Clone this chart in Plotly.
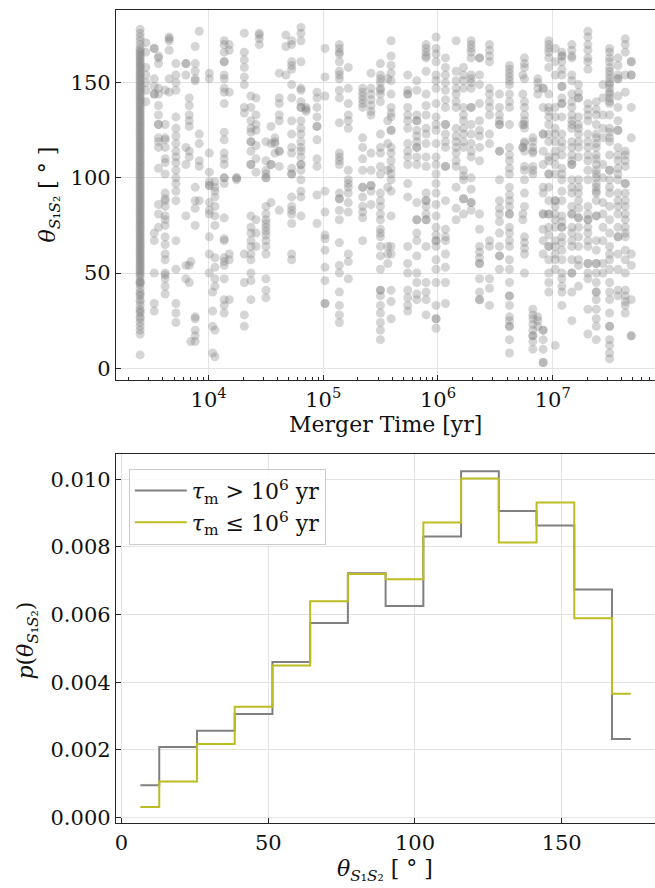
import plotly.graph_objects as go

# ---------------- data: top panel (columns of points: log10 merger time -> angles) -------------
col_log10_time = [
    3.403, 3.453, 3.526, 3.563, 3.621, 3.656, 3.715, 3.802, 3.831, 3.883,
    3.918, 3.845, 4.006, 4.035, 4.055, 4.136, 4.180, 4.244, 4.311, 4.369,
    4.413, 4.442, 4.500, 4.544, 4.578, 4.616, 4.674, 4.724, 4.805, 4.849,
    4.945, 5.015, 5.140, 5.218, 5.343, 5.416, 5.498, 5.562,
    5.591, 5.736, 5.815, 5.896, 5.983, 6.065, 6.158, 6.222, 6.289, 6.362,
    6.449, 6.536, 6.623, 6.740,
    6.754, 6.827, 6.870, 6.917, 6.966, 7.022, 7.080, 7.167, 7.225, 7.307,
    7.380, 7.438, 7.496, 7.569, 7.633, 7.685,
]
col_theta = [
    [178, 176, 174, 172, 170, 168, 167, 166, 165, 164, 163, 162, 161, 160, 159, 158, 157, 156, 155, 154,
     153, 152, 151, 150, 149, 148, 147, 146, 145, 144, 143, 142, 141, 140, 139, 138, 137, 136, 135, 134,
     133, 132, 131, 130, 129, 128, 127, 126, 125, 124, 123, 122, 121, 120, 119, 118, 117, 116, 115, 114,
     113, 112, 111, 110, 109, 108, 107, 106, 105, 104, 103, 102, 101, 100, 99, 98, 97, 96, 95, 94, 93,
     92, 91, 90, 89, 88, 87, 86, 85, 84, 83, 82, 81, 80, 79, 78, 77, 76, 75, 74, 73, 72, 71, 70, 69, 68,
     67, 66, 65, 64, 63, 62, 61, 60, 59, 58, 57, 56, 55, 54, 53, 52, 51, 50, 49, 48, 46, 45, 45, 44, 42,
     40, 39, 38, 36, 35, 33, 31, 30, 29, 27, 26, 24, 22, 20, 18, 7],
    [171, 166, 158, 154, 150, 146, 140],
    [168, 168, 152, 148, 144, 144, 71, 67, 50, 34, 30],
    [164, 163, 160, 147, 144, 138, 133, 128, 128, 121, 119, 116, 105, 86, 81, 74],
    [146, 128, 121, 120, 116, 110, 108, 102, 92, 89, 88, 85, 80, 78, 75, 69, 65, 60, 57, 50, 49, 47, 43, 39],
    [174, 173, 172, 167, 152, 145],
    [160, 154, 150, 146, 132, 126, 122, 118, 114, 111, 108, 104, 100, 97, 93, 88, 67, 52, 34, 29, 24],
    [160, 160, 154, 116, 107, 80, 54, 47],
    [142, 138, 133, 130, 127, 114, 111, 54, 45],
    [169, 160, 156, 152, 151, 95, 88, 84, 75, 27, 26, 20, 17, 14],
    [177, 123, 118, 109, 106, 88],
    [14, 56],
    [155, 152, 113, 103, 98, 96, 96, 87, 83, 81, 69, 60, 50],
    [40, 30, 22, 8],
    [98, 95, 93, 90, 85, 80, 75, 58, 53, 47, 43, 20, 6],
    [172, 170, 166, 161, 161, 154, 152, 147, 145, 139, 124, 120, 113, 110, 107, 100, 100, 97, 79, 68, 67,
     58, 56, 54, 47, 36, 33, 29],
    [170, 167, 145, 60, 57, 36],
    [100, 100, 99],
    [176, 166, 162, 158, 153, 149, 137, 134, 60, 45, 28, 22],
    [143, 137, 130, 126, 124, 119, 119, 114, 107, 107, 80, 74, 71, 67, 64, 60, 57, 50, 46, 36],
    [142, 133, 128, 125, 117, 110, 103, 78, 71, 64],
    [176, 175, 173, 170],
    [119, 109, 104, 102, 100, 100, 85, 81, 78, 76, 74, 72, 70, 67, 64, 60, 47, 41, 37],
    [127, 118, 107, 107, 87],
    [121, 119, 118, 113],
    [155, 142, 139, 133, 130, 114, 114, 106, 83],
    [175, 169, 154],
    [172, 170, 161, 159, 157, 149, 142, 130, 123, 116, 113, 105, 102, 102, 90, 85, 83, 81, 76, 60, 57],
    [179, 176, 172, 161, 147, 146, 140, 137, 137, 130, 126, 123, 119, 116, 114, 111, 107, 107, 104, 99,
     93, 90, 80],
    [137, 136, 135],
    [145, 142, 137, 132, 127, 127, 120, 110, 106, 91, 76],
    [168, 153, 143, 93, 82, 70, 68, 62, 53, 46, 34, 34],
    [170, 168, 166, 165, 161, 156, 154, 152, 146, 142, 129, 113, 111, 109, 107, 92, 89, 89, 83, 78, 66,
     54, 50, 40, 33, 28, 24],
    [158, 147, 139, 133, 130, 126, 104, 99, 97, 95, 92, 87, 82, 60, 56, 47],
    [147, 145, 143, 141, 139, 137, 121, 116, 110, 104, 95, 95, 90, 85, 82, 79, 67],
    [155, 147, 144, 141, 138, 135, 133, 113, 104, 96, 96, 93, 86],
    [160, 154, 152, 150, 147, 146, 144, 140, 123, 116, 113, 106, 102, 92, 88, 85, 81, 78, 73, 71, 69, 64,
     59, 52, 41, 41, 38, 33, 29, 24, 20, 15],
    [152, 130, 118, 104, 95, 64, 60, 55],
    [172, 164, 159, 155, 151, 144, 137, 134, 132, 125, 125, 116, 113, 109, 105, 102, 99, 93, 80, 64, 60,
     41, 35, 26],
    [154, 146, 144, 144, 137, 133, 130, 126, 118, 114, 111, 107, 97, 90, 64, 55, 50, 41, 37, 33, 30],
    [151, 146, 133, 130, 130, 125, 122, 119, 116, 116, 111, 107, 87, 78, 78, 71, 67, 59, 50, 45, 39, 36],
    [170, 168, 166, 164, 163, 156, 144, 138, 133, 126, 123, 118, 111, 106, 92, 88, 88, 85, 81, 78, 78,
     64, 45, 40, 36, 28],
    [174, 168, 165, 161, 154, 151, 147, 139, 132, 128, 125, 118, 111, 107, 102, 97, 92, 86, 80, 74, 70,
     67, 67, 64, 57, 52, 45, 33, 26, 26, 21],
    [163, 158, 154, 150, 146, 141, 137, 128, 128, 123, 119, 116, 106, 106, 88, 73, 69, 67, 60, 53, 45, 34],
    [172, 156, 151, 147, 144, 140, 137, 126, 122, 119, 116, 113, 109, 106, 95, 84, 78],
    [158, 154, 151, 147, 137, 133, 130, 126, 123, 119, 116, 104, 101, 99, 89, 89, 81],
    [172, 170, 168, 166, 163, 154, 152, 150, 147, 137, 137, 128, 123, 118, 114, 111, 100, 94, 87, 87, 83],
    [163, 163, 154, 149, 139, 130, 125, 122, 116, 109, 81, 73, 64, 61, 58, 55, 55, 47, 40, 36, 36],
    [170, 167, 164, 161, 147, 144, 140, 137, 133, 123, 118, 67, 64, 47, 42, 33],
    [144, 137, 133, 130, 128, 128, 114, 114, 99, 88, 84, 81, 77, 71, 64, 59, 59, 52],
    [159, 157, 155, 153, 151, 149, 144, 140, 137, 128, 116, 112, 109, 105, 102, 95, 91, 88, 85, 81, 81,
     74, 71, 67, 64, 57, 52, 45, 38, 38, 33, 27, 25, 22, 22, 15, 8],
    [154, 144, 128, 116, 116, 81, 78],
    [163, 160, 158, 152, 140, 137, 133, 130, 128, 126, 119, 118, 114, 106, 104, 99, 92, 85, 69, 66, 63,
     60, 50],
    [121, 119, 116, 114, 113, 106, 104, 102, 31, 28, 26, 23, 20, 17, 17, 14, 10],
    [152, 150, 147, 144, 27, 25, 22],
    [147, 147, 137, 123, 123, 114, 107, 95, 92, 81, 81, 73, 67, 60, 20, 20, 15, 10, 3, 3],
    [172, 170, 168, 166, 163, 158, 144, 137, 135, 132, 128, 123, 119, 111, 109, 102, 102, 95, 88, 81, 81,
     74, 70, 64, 64, 57, 50, 45, 40],
    [168, 161, 154, 137, 132, 126, 123, 119, 114, 111, 107, 102, 88, 88, 85, 81, 78, 74, 67, 64, 60, 57,
     52, 12],
    [166, 164, 164, 161, 157, 154, 148, 148, 142, 139, 139, 132, 123, 119, 116, 112, 105, 102, 99, 93, 88,
     80, 77, 74, 74, 69, 66, 62, 57, 50, 47, 43, 40, 33],
    [170, 167, 164, 163, 154, 151, 144, 140, 137, 133, 130, 128, 126, 119, 116, 112, 109, 107, 107, 99,
     95, 92, 85, 81, 81, 74, 71, 67, 64, 57, 50, 50, 40, 25],
    [149, 145, 142, 142, 132, 128, 126, 123, 119, 116, 111, 99, 95, 92, 88, 84, 79, 79, 74, 69, 64, 57,
     54, 43],
    [177, 174, 170, 167, 163, 161, 157, 139, 136, 133, 130, 123, 119, 116, 112, 109, 104, 99, 85, 81, 78,
     78, 74, 71, 67, 64, 55, 55, 50, 47, 31, 18],
    [140, 136, 133, 128, 123, 121, 118, 116, 112, 110, 107, 104, 102, 100, 97, 95, 93, 92, 88, 80, 80, 67,
     62, 55, 55, 50, 45, 40, 40, 36, 31, 26, 22, 15],
    [149, 142, 133, 126, 121, 107, 100, 87, 81, 74, 67, 55, 50],
    [168, 166, 163, 161, 158, 156, 154, 152, 150, 149, 147, 145, 144, 142, 140, 139, 133, 126, 124, 121,
     119, 112, 104, 104, 99, 95, 92, 85, 78, 71, 64, 60, 57, 52, 45, 40, 36, 29, 22, 22, 15, 12, 8, 5],
    [163, 159, 154, 152, 152, 143, 137, 130, 125, 125, 116, 112, 109, 105, 102, 99, 92, 88, 85, 81, 74,
     69, 69, 60, 52, 41, 38],
    [173, 170, 166, 154, 145, 114, 112, 109, 106, 97, 97, 92, 88, 85, 81, 78, 74, 71, 69, 62, 57, 50, 41,
     38, 35, 33, 29],
    [161, 161, 154, 154, 137, 121, 60, 54, 36, 17, 17],
]

# ---------------- data: bottom panel (histogram densities per bin) ----------------
bin_centers = [6.43, 19.29, 32.14, 45.0, 57.86, 70.71, 83.57, 96.43, 109.29, 122.14,
               135.0, 147.86, 160.71, 173.57]
p_long = [0.00095, 0.00208, 0.00256, 0.00306, 0.00460, 0.00575, 0.00722, 0.00625, 0.00831,
          0.01024, 0.00906, 0.00863, 0.00674, 0.00232]
p_short = [0.00031, 0.00106, 0.00217, 0.00327, 0.00449, 0.00639, 0.00720, 0.00704, 0.00872,
           0.01002, 0.00813, 0.00931, 0.00589, 0.00366]

top_tick_vals = [1e4, 1e5, 1e6, 1e7]
top_tick_text = ["10<sup>4</sup>", "10<sup>5</sup>", "10<sup>6</sup>", "10<sup>7</sup>"]

# ---------------- build ----------------
xs, ys = [], []
for lt, th in zip(col_log10_time, col_theta):
    for v in th:
        xs.append(10 ** lt)
        ys.append(v)

W, H = 655, 888
FONT = "DejaVu Serif"
AX = "#262626"
GRID = "#e3e3e3"

fig = go.Figure()
fig.add_trace(go.Scatter(
    x=xs, y=ys, mode="markers", xaxis="x", yaxis="y", showlegend=False,
    marker=dict(size=9, color="rgba(128,128,128,0.33)", line=dict(width=0)),
    hoverinfo="skip"))

fig.add_trace(go.Scatter(
    x=bin_centers, y=p_long, mode="lines", line_shape="hvh", xaxis="x2", yaxis="y2",
    line=dict(color="#808080", width=2),
    name="<i>τ</i><sub>m</sub> > 10<sup>6</sup> yr"))
fig.add_trace(go.Scatter(
    x=bin_centers, y=p_short, mode="lines", line_shape="hvh", xaxis="x2", yaxis="y2",
    line=dict(color="#bcbd22", width=2),
    name="<i>τ</i><sub>m</sub> ≤ 10<sup>6</sup> yr"))

minor_vals = [m * 10 ** d for d in range(3, 8) for m in range(2, 10)]

x_dom = [115 / W, 1.0]
y1_dom = [1 - 383 / H, 1 - 10 / H]
y2_dom = [1 - 829 / H, 1 - 457 / H]

common_axis = dict(showline=True, linecolor=AX, linewidth=1, ticks="inside", tickcolor=AX,
                   ticklen=5, tickwidth=1, showgrid=True, gridcolor=GRID, gridwidth=1,
                   zeroline=False, tickfont=dict(family=FONT, size=21, color="#111"))

fig.update_layout(
    width=W, height=H, margin=dict(l=0, r=0, t=0, b=0),
    paper_bgcolor="white", plot_bgcolor="white",
    font=dict(family=FONT, size=21, color="#111"),
    xaxis=dict(domain=x_dom, anchor="y", type="log", range=[3.191, 7.892], mirror=True,
               tickmode="array", tickvals=top_tick_vals, ticktext=top_tick_text,
               minor=dict(tickmode="array", tickvals=minor_vals, ticks="inside", ticklen=3,
                          tickcolor=AX, showgrid=False),
               **common_axis),
    yaxis=dict(domain=y1_dom, anchor="x", range=[-6.4, 188.2],
               tickmode="array", tickvals=[0, 50, 100, 150], **common_axis),
    xaxis2=dict(domain=x_dom, anchor="y2", range=[-1.94, 181.8], mirror=True,
                tickmode="array", tickvals=[0, 50, 100, 150], **common_axis),
    yaxis2=dict(domain=y2_dom, anchor="x2", range=[-0.000176, 0.01075],
                tickmode="array", tickvals=[0, 0.002, 0.004, 0.006, 0.008, 0.010],
                tickformat=".3f", **common_axis),
    legend=dict(x=128 / W, y=1 - 472 / H, xanchor="left", yanchor="top",
                bgcolor="rgba(255,255,255,0.85)", bordercolor="#cccccc", borderwidth=1,
                font=dict(family=FONT, size=22, color="#111"), itemwidth=52,
                tracegroupgap=0),
    annotations=[
        dict(text="Merger Time [yr]", x=385 / W, y=1 - 427 / H, xref="paper", yref="paper",
             showarrow=False, xanchor="center", yanchor="middle", font=dict(size=22)),
        dict(text="<i>θ</i><sub><i>S</i>₁<i>S</i>₂</sub> [ ° ]", x=49 / W, y=1 - 196 / H,
             xref="paper", yref="paper", showarrow=False, textangle=-90,
             xanchor="center", yanchor="middle", font=dict(size=22)),
        dict(text="<i>p</i>(<i>θ</i><sub><i>S</i>₁<i>S</i>₂</sub>)", x=27 / W, y=1 - 645 / H,
             xref="paper", yref="paper", showarrow=False, textangle=-90,
             xanchor="center", yanchor="middle", font=dict(size=22)),
        dict(text="<i>θ</i><sub><i>S</i>₁<i>S</i>₂</sub> [ ° ]", x=385 / W, y=1 - 876 / H,
             xref="paper", yref="paper", showarrow=False,
             xanchor="center", yanchor="middle", font=dict(size=22)),
    ],
)

fig.write_html("out.html")
